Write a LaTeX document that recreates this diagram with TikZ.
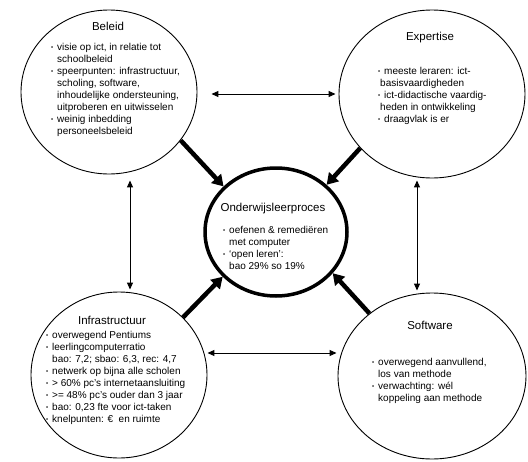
\documentclass[tikz,border=0pt]{standalone}
\usepackage{fontspec}
\setmainfont{Liberation Sans}
\usetikzlibrary{shapes,arrows.meta,positioning,calc}

\newcommand{\itm}{\makebox[6pt][l]{\raisebox{0.7pt}{\fontsize{6}{6}\selectfont•}}}
\newcommand{\ind}{\hspace*{6pt}}

\begin{document}
\begin{tikzpicture}[x=1pt, y=-1pt,
    bubble/.style={draw, ellipse, line width=0.9pt, inner sep=0pt},
    core/.style={draw, ellipse, line width=3.5pt, inner sep=0pt, minimum width=142pt, minimum height=128pt},
    link/.style={{Triangle[length=7pt,width=6pt]}-{Triangle[length=7pt,width=6pt]}, line width=1pt},
    push/.style={-{Triangle[length=11pt,width=13pt]}, line width=4.5pt},
    heading/.style={font=\fontsize{11.5}{13}\selectfont},
    items/.style={font=\fontsize{10}{12}\selectfont, align=left, anchor=north west, inner sep=0pt},
]

\useasboundingbox (0,0) rectangle (528,461);

% Circles
\node[bubble, minimum width=176pt, minimum height=164pt] (beleid) at (109,92) {};
\node[bubble, minimum width=186pt, minimum height=168pt] (expertise) at (432,94) {};
\node[core] (proces) at (276,232) {};
\node[bubble, minimum width=176pt, minimum height=166pt] (infra) at (119,375) {};
\node[bubble, minimum width=188pt, minimum height=166pt] (software) at (432,376) {};

% Connections
\draw[link, shorten <=14pt, shorten >=3pt] ([yshift=-2pt]beleid.east) -- (expertise.west);
\draw[link, shorten <=6pt, shorten >=2pt] ([xshift=21pt]beleid.south) -- ([xshift=11pt]infra.north);
\draw[link, shorten <=2pt, shorten >=2pt] ([xshift=-15pt]expertise.south) -- ([xshift=-15pt]software.north);
\draw[link, shorten >=1pt] ([yshift=22pt]infra.east) -- ([yshift=23pt]software.west);

\draw[push] (beleid.-34) -- (proces.139);
\draw[push] (expertise.217) -- (proces.43);
\draw[push] (infra.42) -- (proces.220);
\draw[push] (software.135) -- (proces.-36);

% Texts
\node[heading] (beleid-title) at (108,26) {Beleid};
\node[items] (beleid-list) at (51,43) {\itm visie op ict, in relatie tot\\ \ind schoolbeleid\\
  \itm speerpunten: infrastructuur,\\ \ind scholing, software,\\ \ind inhoudelijke ondersteuning,\\ \ind uitproberen en uitwisselen\\
  \itm weinig inbedding\\ \ind personeelsbeleid};

\node[heading] (expertise-title) at (430,38) {Expertise};
\node[items] (expertise-list) at (378,67) {\itm meeste leraren: ict-\\ \hspace*{2pt}basisvaardigheden\\
  \itm ict-didactische vaardig-\\ \hspace*{2pt}heden in ontwikkeling\\
  \itm draagvlak is er};

\node[heading] (proces-title) at (273,209) {Onderwijsleerproces};
\node[items] (proces-list) at (223,226) {\itm oefenen \& remediëren\\ \ind met computer\\
  \itm ‘open leren’:\\ \ind bao 29\% so 19\%};

\node[heading] (infra-title) at (112,320) {Infrastructuur};
\node[items] (infra-list) at (46,331) {\itm overwegend Pentiums\\ \itm leerlingcomputerratio\\ \ind bao: 7,2; sbao: 6,3, rec: 4,7\\
  \itm netwerk op bijna alle scholen\\ \itm > 60\% pc’s internetaansluiting\\ \itm >= 48\% pc’s ouder dan 3 jaar\\
  \itm bao: 0,23 fte voor ict-taken\\ \itm knelpunten: €~ en ruimte};

\node[heading] (software-title) at (430,325) {Software};
\node[items] (software-list) at (372,358) {\itm overwegend aanvullend,\\ \ind los van methode\\
  \itm verwachting: wél\\ \ind koppeling aan methode};

\end{tikzpicture}
\end{document}
